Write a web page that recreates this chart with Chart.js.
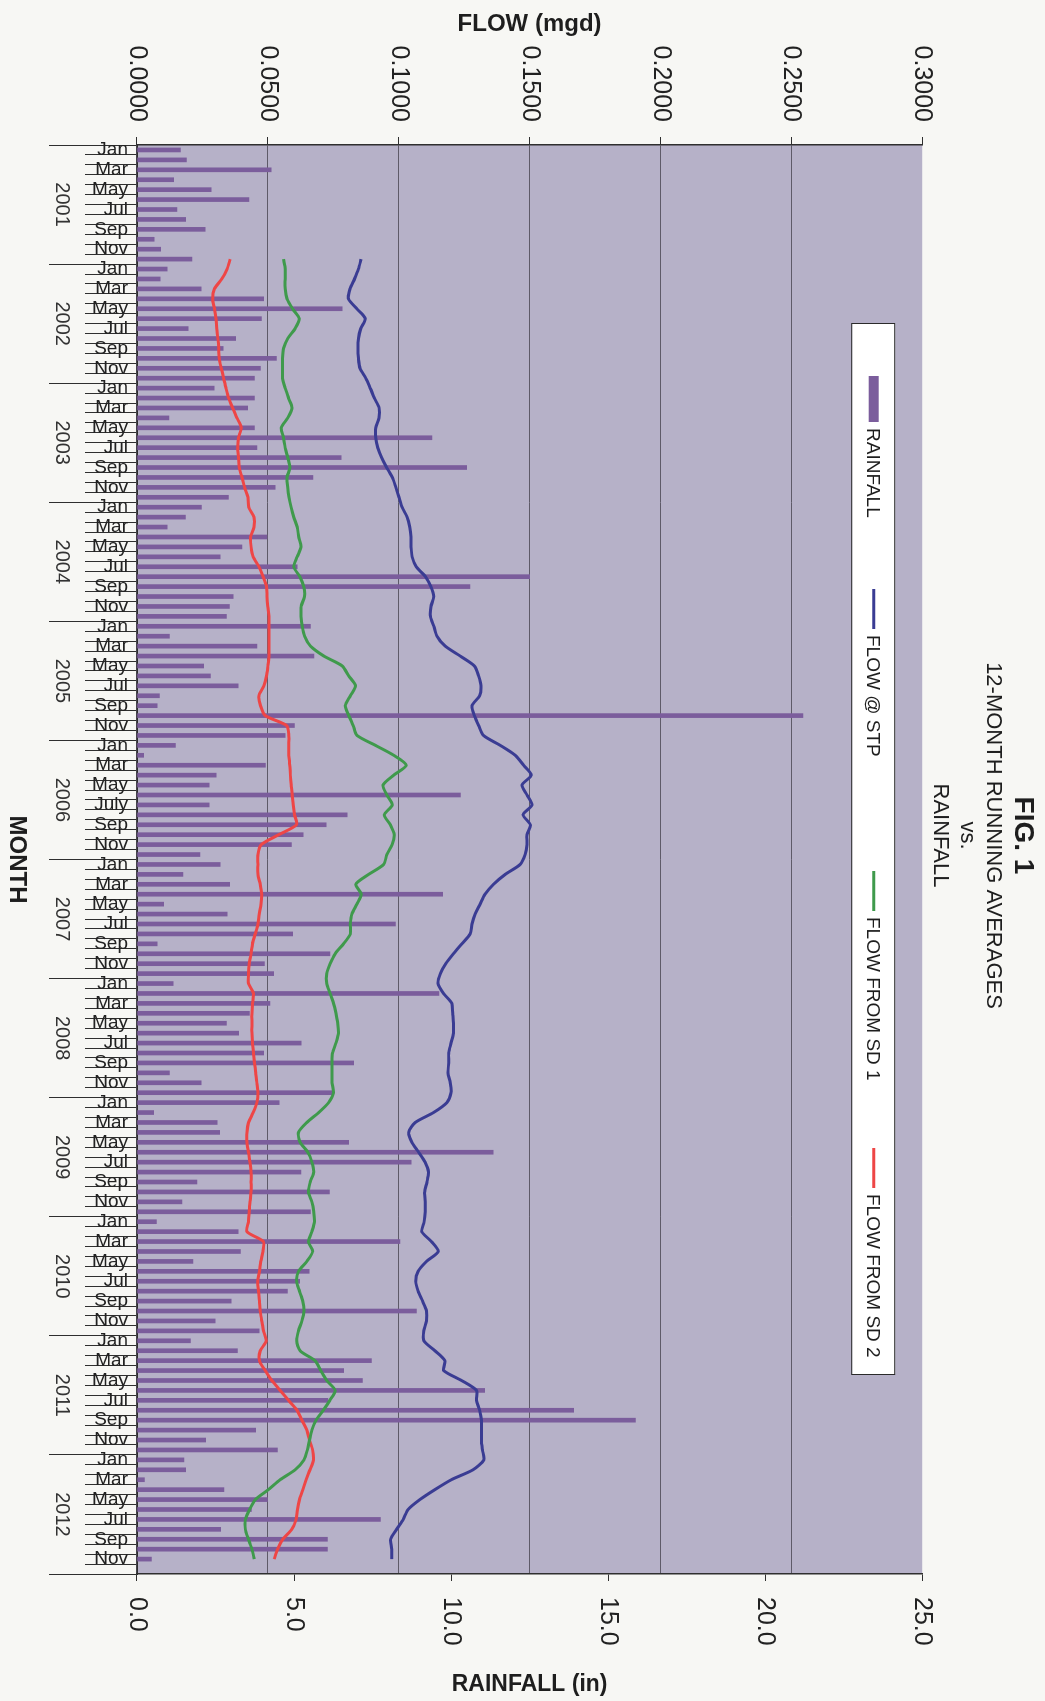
<!DOCTYPE html>
<html>
<head>
<meta charset="utf-8">
<title>FIG. 1 - 12-month running averages vs. rainfall</title>
<script src="https://cdn.jsdelivr.net/npm/chart.js@4.4.1/dist/chart.umd.min.js"></script>
<style>
  html, body { margin: 0; padding: 0; background: #f7f7f4; }
  body { width: 1045px; height: 1701px; overflow: hidden; position: relative; }
  /* the figure is laid out landscape and turned a quarter clockwise, as on the printed sheet */
  #page {
    position: absolute; left: 0; top: 0;
    width: 1701px; height: 1045px;
    transform-origin: 0 0;
    transform: translate(1045px, 0) rotate(90deg);
  }
</style>
</head>
<body>
<div id="page"><canvas id="fig1" width="1701" height="1045"></canvas></div>
<script>
const years = ['2001', '2002', '2003', '2004', '2005', '2006', '2007', '2008', '2009', '2010', '2011', '2012'];
const monthNames = ['Jan', 'Feb', 'Mar', 'Apr', 'May', 'Jun', 'Jul', 'Aug', 'Sep', 'Oct', 'Nov', 'Dec'];

// labels printed under the month axis (every second month)
const monthTicks = ['Jan', '', 'Mar', '', 'May', '', 'Jul', '', 'Sep', '', 'Nov', ''];
const monthTicks2006 = ['Jan', '', 'Mar', '', 'May', '', 'July', '', 'Sep', '', 'Nov', ''];

// monthly rainfall (in), Jan 2001 .. Dec 2012
const rainfall = [
  1.38, 1.57, 4.27, 1.17, 2.36, 3.56, 1.27, 1.55, 2.17, 0.55, 0.75, 1.75,
  0.96, 0.74, 2.04, 4.03, 6.53, 3.96, 1.63, 3.14, 2.74, 4.44, 3.93, 3.74,
  2.46, 3.74, 3.52, 1.02, 3.74, 9.39, 3.82, 6.50, 10.50, 5.60, 4.40, 2.91,
  2.05, 1.54, 0.96, 4.14, 3.34, 2.65, 5.10, 12.50, 10.60, 3.06, 2.94, 2.85,
  5.52, 1.03, 3.82, 5.63, 2.12, 2.34, 3.22, 0.71, 0.64, 21.20, 5.01, 4.72,
  1.22, 0.21, 4.09, 2.52, 2.30, 10.30, 2.30, 6.69, 6.02, 5.29, 4.92, 2.00,
  2.65, 1.46, 2.95, 9.73, 0.85, 2.87, 8.23, 4.96, 0.64, 6.14, 4.06, 4.35,
  1.15, 9.61, 4.23, 3.58, 2.85, 3.24, 5.23, 4.03, 6.90, 1.03, 2.04, 6.21,
  4.53, 0.53, 2.55, 2.63, 6.74, 11.34, 8.73, 5.22, 1.91, 6.13, 1.43, 5.52,
  0.62, 3.22, 8.37, 3.29, 1.78, 5.48, 5.18, 4.79, 3.00, 8.90, 2.49, 3.89,
  1.70, 3.20, 7.46, 6.58, 7.18, 11.07, 6.08, 13.90, 15.87, 3.78, 2.19, 4.47,
  1.49, 1.55, 0.24, 2.77, 4.15, 3.64, 7.75, 2.66, 6.06, 6.06, 0.46, null
];

// 12-month running averages (mgd), first full year ends Dec 2001
const flowStp = [
  null, null, null, null, null, null, null, null, null, null, null, 0.0856,
  0.0846, 0.0831, 0.0814, 0.0808, 0.0840, 0.0872, 0.0855, 0.0846, 0.0844, 0.0846, 0.0852, 0.0874,
  0.0891, 0.0907, 0.0925, 0.0925, 0.0912, 0.0912, 0.0920, 0.0935, 0.0954, 0.0976, 0.0989, 0.1001,
  0.1013, 0.1032, 0.1042, 0.1047, 0.1047, 0.1051, 0.1067, 0.1102, 0.1123, 0.1134, 0.1123, 0.1121,
  0.1134, 0.1146, 0.1178, 0.1235, 0.1289, 0.1305, 0.1314, 0.1309, 0.1280, 0.1289, 0.1305, 0.1324,
  0.1388, 0.1445, 0.1477, 0.1506, 0.1471, 0.1490, 0.1509, 0.1475, 0.1503, 0.1490, 0.1490, 0.1483,
  0.1464, 0.1407, 0.1362, 0.1330, 0.1311, 0.1292, 0.1280, 0.1273, 0.1241, 0.1209, 0.1180, 0.1159,
  0.1150, 0.1171, 0.1203, 0.1206, 0.1209, 0.1209, 0.1200, 0.1191, 0.1191, 0.1188, 0.1197, 0.1200,
  0.1184, 0.1133, 0.1063, 0.1038, 0.1050, 0.1076, 0.1101, 0.1114, 0.1108, 0.1099, 0.1101, 0.1101,
  0.1097, 0.1088, 0.1125, 0.1151, 0.1106, 0.1074, 0.1065, 0.1074, 0.1091, 0.1106, 0.1106, 0.1096,
  0.1096, 0.1138, 0.1176, 0.1172, 0.1240, 0.1297, 0.1297, 0.1309, 0.1316, 0.1316, 0.1316, 0.1320,
  0.1325, 0.1284, 0.1201, 0.1138, 0.1081, 0.1036, 0.1017, 0.0992, 0.0969, 0.0973, 0.0973, null
];

const flowSd1 = [
  null, null, null, null, null, null, null, null, null, null, null, 0.0560,
  0.0566, 0.0566, 0.0566, 0.0573, 0.0594, 0.0620, 0.0604, 0.0576, 0.0560, 0.0556, 0.0556, 0.0556,
  0.0566, 0.0579, 0.0592, 0.0576, 0.0551, 0.0560, 0.0566, 0.0576, 0.0585, 0.0573, 0.0576, 0.0581,
  0.0589, 0.0599, 0.0612, 0.0618, 0.0627, 0.0612, 0.0599, 0.0622, 0.0637, 0.0640, 0.0627, 0.0627,
  0.0631, 0.0640, 0.0663, 0.0714, 0.0784, 0.0809, 0.0835, 0.0815, 0.0796, 0.0809, 0.0826, 0.0841,
  0.0911, 0.0981, 0.1029, 0.0981, 0.0940, 0.0955, 0.0975, 0.0945, 0.0968, 0.0983, 0.0975, 0.0955,
  0.0942, 0.0885, 0.0836, 0.0857, 0.0840, 0.0821, 0.0815, 0.0815, 0.0789, 0.0757, 0.0738, 0.0725,
  0.0725, 0.0738, 0.0751, 0.0760, 0.0767, 0.0770, 0.0760, 0.0747, 0.0745, 0.0745, 0.0745, 0.0751,
  0.0732, 0.0694, 0.0649, 0.0617, 0.0623, 0.0653, 0.0668, 0.0675, 0.0662, 0.0655, 0.0668, 0.0675,
  0.0678, 0.0668, 0.0655, 0.0671, 0.0649, 0.0617, 0.0610, 0.0621, 0.0633, 0.0638, 0.0630, 0.0617,
  0.0610, 0.0623, 0.0680, 0.0702, 0.0725, 0.0757, 0.0737, 0.0712, 0.0684, 0.0668, 0.0659, 0.0651,
  0.0638, 0.0604, 0.0547, 0.0502, 0.0452, 0.0430, 0.0414, 0.0414, 0.0426, 0.0439, 0.0448, null
];

const flowSd2 = [
  null, null, null, null, null, null, null, null, null, null, null, 0.0356,
  0.0344, 0.0324, 0.0296, 0.0289, 0.0296, 0.0302, 0.0305, 0.0309, 0.0312, 0.0314, 0.0322, 0.0331,
  0.0340, 0.0350, 0.0365, 0.0382, 0.0398, 0.0388, 0.0385, 0.0388, 0.0391, 0.0401, 0.0411, 0.0424,
  0.0427, 0.0447, 0.0447, 0.0434, 0.0436, 0.0444, 0.0466, 0.0482, 0.0495, 0.0497, 0.0500, 0.0504,
  0.0504, 0.0504, 0.0504, 0.0504, 0.0500, 0.0495, 0.0485, 0.0466, 0.0472, 0.0490, 0.0571, 0.0580,
  0.0580, 0.0580, 0.0584, 0.0586, 0.0589, 0.0593, 0.0597, 0.0602, 0.0609, 0.0542, 0.0475, 0.0462,
  0.0462, 0.0462, 0.0471, 0.0477, 0.0474, 0.0467, 0.0462, 0.0452, 0.0441, 0.0436, 0.0429, 0.0426,
  0.0426, 0.0445, 0.0441, 0.0439, 0.0439, 0.0439, 0.0441, 0.0445, 0.0449, 0.0454, 0.0458, 0.0462,
  0.0458, 0.0444, 0.0426, 0.0420, 0.0420, 0.0426, 0.0432, 0.0436, 0.0436, 0.0436, 0.0432, 0.0429,
  0.0426, 0.0420, 0.0483, 0.0481, 0.0473, 0.0468, 0.0461, 0.0464, 0.0468, 0.0471, 0.0477, 0.0483,
  0.0494, 0.0471, 0.0468, 0.0490, 0.0515, 0.0547, 0.0579, 0.0611, 0.0630, 0.0649, 0.0659, 0.0671,
  0.0674, 0.0661, 0.0646, 0.0634, 0.0621, 0.0613, 0.0608, 0.0591, 0.0557, 0.0537, 0.0524, null
];

const flowTicks = [0, 0.05, 0.10, 0.15, 0.20, 0.25, 0.30];
const rainTicks = [0, 5, 10, 15, 20, 25];

const months = years.flatMap(y => monthNames.map(m => m + ' ' + y));
const monthTickLabels = years.flatMap(y => (y === '2006' ? monthTicks2006 : monthTicks));

const FONT = "'Liberation Sans', Arial, Helvetica, sans-serif";
const NARROW = "'Liberation Sans Narrow', 'Arial Narrow', 'Liberation Sans', Arial, sans-serif";
Chart.defaults.font.family = FONT;
Chart.defaults.color = '#1e1e1e';


// lavender fill behind the plot
const plotBackground = {
    id: 'plotBackground',
    beforeDraw(chart, _args, opts) {
        const {ctx, chartArea: a} = chart;
        ctx.save();
        ctx.fillStyle = opts.color;
        ctx.fillRect(a.left, a.top, a.width, a.height);
        ctx.restore();
    }
};

// white legend box sitting inside the plot, under the top edge
const boxedLegend = {
    id: 'boxedLegend',
    afterDraw(chart, _args, opts) {
        const {ctx, chartArea: a} = chart;
        const x = a.left + opts.left;
        const y = a.top + opts.top;
        const cy = y + opts.height / 2;
        ctx.save();
        ctx.fillStyle = '#ffffff';
        ctx.fillRect(x, y, opts.width, opts.height);
        ctx.strokeStyle = '#2a2a2a';
        ctx.lineWidth = 1;
        ctx.strokeRect(x + 0.5, y + 0.5, opts.width, opts.height);
        ctx.font = opts.font;
        ctx.textBaseline = 'middle';
        ctx.textAlign = 'left';

        chart.data.datasets.forEach((ds, i) => {
            const sx = x + opts.itemX[i];
            let tx;
            if (ds.type === 'bar') {
                ctx.fillStyle = ds.backgroundColor;
                ctx.fillRect(sx, cy - 5, 46, 10);
                tx = sx + 52;
            } else {
                ctx.strokeStyle = ds.borderColor;
                ctx.lineWidth = 3;
                ctx.beginPath();
                ctx.moveTo(sx, cy);
                ctx.lineTo(sx + 40, cy);
                ctx.stroke();
                tx = sx + 46;
            }
            ctx.fillStyle = '#1e1e1e';
            ctx.fillText(ds.label, tx, cy + 1);
        });
        ctx.restore();
    }
};

// right-hand axis title, reading the same way as the left one
const rightAxisTitle = {
    id: 'rightAxisTitle',
    afterDraw(chart, _args, opts) {
        const {ctx} = chart;
        const s = chart.scales.rain;
        ctx.save();
        ctx.translate(s.right + opts.offset, (s.top + s.bottom) / 2);
        ctx.rotate(-Math.PI / 2);
        ctx.font = opts.font;
        ctx.fillStyle = '#1e1e1e';
        ctx.textAlign = 'center';
        ctx.textBaseline = 'middle';
        ctx.fillText(opts.text, 0, 0);
        ctx.restore();
    }
};


new Chart(document.getElementById('fig1'), {
    type: 'bar',
    data: {
        labels: months,
        datasets: [
            {
                type: 'bar',
                label: 'RAINFALL',
                data: rainfall,
                yAxisID: 'rain',
                backgroundColor: '#7b5d9c',
                barThickness: 4,
                order: 1
            },
            {
                type: 'line',
                label: 'FLOW @ STP',
                data: flowStp,
                yAxisID: 'flow',
                borderColor: '#3a3c93',
                borderWidth: 3,
                pointRadius: 0,
                tension: 0.25,
                order: 0
            },
            {
                type: 'line',
                label: 'FLOW FROM SD 1',
                data: flowSd1,
                yAxisID: 'flow',
                borderColor: '#3f9a4c',
                borderWidth: 3,
                pointRadius: 0,
                tension: 0.25,
                order: 0
            },
            {
                type: 'line',
                label: 'FLOW FROM SD 2',
                data: flowSd2,
                yAxisID: 'flow',
                borderColor: '#ee4646',
                borderWidth: 3,
                pointRadius: 0,
                tension: 0.25,
                order: 0
            }
        ]
    },
    options: {
        responsive: false,
        animation: false,
        events: [],
        layout: {padding: {left: 0, right: 30, top: 0, bottom: 0}},
        scales: {
            x: {
                type: 'category',
                weight: 0,
                offset: true,
                grid: {offset: true, drawOnChartArea: false, tickLength: 52, tickColor: '#2f2f2f', tickWidth: 1},
                border: {color: '#2f2f2f', width: 1.5},
                ticks: {
                    autoSkip: false,
                    minRotation: 90,
                    maxRotation: 90,
                    padding: -43,
                    color: '#222',
                    font: {size: 19},
                    callback: (v, i) => monthTickLabels[i]
                },
                afterFit: s => { s.height = 52; }
            },
            // year band below the months; its ticks carry the year separators on outward
            years: {
                type: 'linear',
                axis: 'x',
                position: 'bottom',
                weight: 1,
                offset: false,
                min: -0.5,
                max: 143.5,
                afterBuildTicks: s => { s.ticks = years.map((y, i) => ({value: 5.5 + 12 * i})); },
                grid: {offset: true, drawOnChartArea: false, tickLength: 36, tickColor: '#2f2f2f', tickWidth: 1},
                border: {display: false},
                ticks: {
                    autoSkip: false,
                    minRotation: 0,
                    maxRotation: 0,
                    padding: -25,
                    color: '#333',
                    font: {size: 20},
                    callback: (v, i) => years[i]
                },
                title: {display: true, text: 'MONTH', font: {size: 24, weight: 'bold'}, padding: {bottom: 2}},
                afterFit: s => { s.height = 85; }
            },
            flow: {
                type: 'linear',
                position: 'left',
                min: 0,
                max: 0.3,
                afterBuildTicks: s => { s.ticks = flowTicks.map(v => ({value: v})); },
                grid: {
                    color: c => (c.tick && c.tick.value > 0.299 ? 'rgba(0,0,0,0)' : '#5e5a68'),
                    lineWidth: 1,
                    tickLength: 8,
                    tickColor: '#2f2f2f'
                },
                border: {color: '#2f2f2f', width: 1.5},
                ticks: {padding: 15, color: '#222', font: {size: 25}, callback: v => v.toFixed(4)},
                title: {display: true, text: 'FLOW (mgd)', font: {size: 24, weight: 'bold'}, padding: {top: 10}},
                afterFit: s => { s.width = 145; }
            },
            rain: {
                type: 'linear',
                position: 'right',
                min: 0,
                max: 25,
                afterBuildTicks: s => { s.ticks = rainTicks.map(v => ({value: v})); },
                grid: {drawOnChartArea: false, tickLength: 7, tickColor: '#2f2f2f'},
                border: {color: '#2f2f2f', width: 1.5},
                ticks: {padding: 16, color: '#222', font: {size: 25}, callback: v => v.toFixed(1)},
                afterFit: s => { s.width = 97; }
            }
        },
        plugins: {
            legend: {display: false},
            tooltip: {enabled: false},
            title: {
                display: true,
                text: 'FIG. 1',
                color: '#1e1e1e',
                font: {family: NARROW, size: 28, weight: 'bold', lineHeight: 1.2},
                padding: {top: 5, bottom: 0}
            },
            subtitle: {
                display: true,
                text: ['12-MONTH RUNNING AVERAGES', 'vs.', 'RAINFALL'],
                color: '#1e1e1e',
                font: {size: 22, lineHeight: 1.2},
                padding: {top: 0, bottom: 5}
            },
            plotBackground: {color: '#b6b1c8'},
            boxedLegend: {
                left: 178, top: 27, width: 1051, height: 43,
                itemX: [53, 266, 548, 825],
                font: '19px ' + FONT
            },
            rightAxisTitle: {text: 'RAINFALL (in)', offset: 14, font: 'bold 23px ' + FONT}
        }
    },
    plugins: [plotBackground, boxedLegend, rightAxisTitle]
});
</script>
</body>
</html>
